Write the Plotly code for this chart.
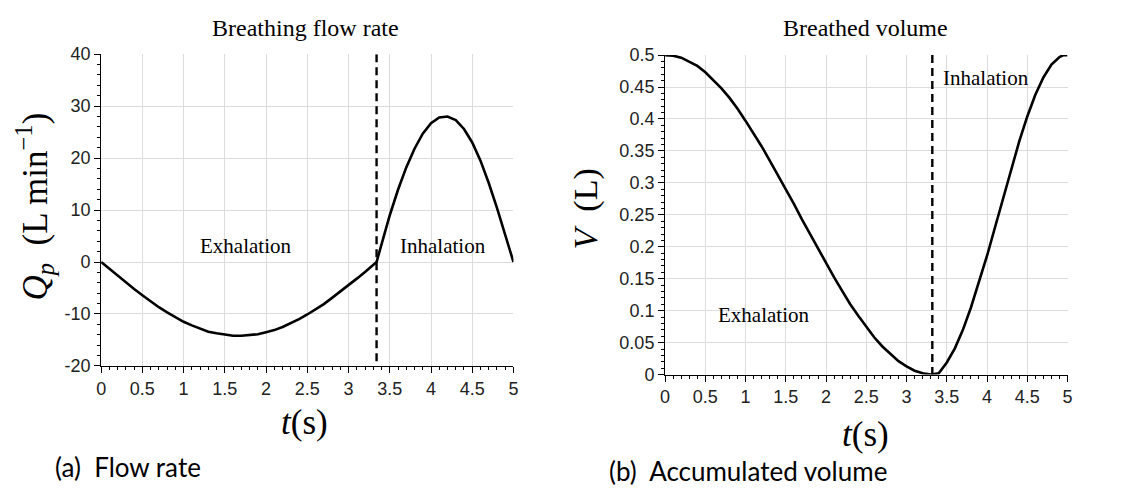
import plotly.graph_objects as go

# ---------------- data ----------------
t_flow = [0.0, 0.1, 0.2, 0.3, 0.4, 0.5, 0.6, 0.7, 0.8, 0.9, 1.0, 1.1, 1.2, 1.3, 1.4, 1.5, 1.6, 1.7,
          1.8, 1.9, 2.0, 2.1, 2.2, 2.3, 2.4, 2.5, 2.6, 2.7, 2.8, 2.9, 3.0, 3.1, 3.2, 3.3, 3.34,
          3.4, 3.5, 3.6, 3.7, 3.8, 3.9, 4.0, 4.1, 4.2, 4.3, 4.4, 4.5, 4.6, 4.7, 4.8, 4.9, 5.0]
q_flow = [0.0, -1.3, -2.7, -4.0, -5.2, -6.4, -7.6, -8.7, -9.7, -10.6, -11.5, -12.2, -12.8, -13.4,
          -13.7, -14.0, -14.2, -14.2, -14.1, -13.9, -13.5, -13.1, -12.5, -11.8, -11.0, -10.1, -9.1,
          -8.1, -6.9, -5.7, -4.5, -3.2, -1.9, -0.5, 0.0,
          3.4, 9.0, 13.9, 18.2, 21.8, 24.7, 26.7, 27.8, 28.0, 27.3, 25.6, 23.0, 19.5, 15.2, 10.4, 5.3, 0.0]

t_vol = [0.0, 0.1, 0.2, 0.3, 0.4, 0.5, 0.6, 0.7, 0.8, 0.9, 1.0, 1.1, 1.2, 1.3, 1.4, 1.5, 1.6, 1.7,
         1.8, 1.9, 2.0, 2.1, 2.2, 2.3, 2.4, 2.5, 2.6, 2.7, 2.8, 2.9, 3.0, 3.1, 3.2, 3.3, 3.4,
         3.5, 3.6, 3.7, 3.8, 3.9, 4.0, 4.1, 4.2, 4.3, 4.4, 4.5, 4.6, 4.7, 4.8, 4.9, 4.95, 5.0]
v_vol = [0.5, 0.499, 0.496, 0.490, 0.483, 0.473, 0.461, 0.448, 0.433, 0.416, 0.397, 0.378, 0.357,
         0.335, 0.313, 0.290, 0.267, 0.243, 0.220, 0.196, 0.174, 0.152, 0.131, 0.110, 0.092, 0.074,
         0.058, 0.044, 0.032, 0.021, 0.013, 0.006, 0.002, 0.0, 0.002,
         0.019, 0.041, 0.070, 0.105, 0.144, 0.186, 0.231, 0.277, 0.322, 0.365, 0.404, 0.438,
         0.465, 0.485, 0.497, 0.500, 0.500]

t_switch_flow = [3.34, 3.34]
q_switch = [40, -19.2]
t_switch_vol = [3.32, 3.32]
v_switch = [0.5, 0.0]

x_ticks = [0, 0.5, 1, 1.5, 2, 2.5, 3, 3.5, 4, 4.5, 5]
x_tick_text = ["0", "0.5", "1", "1.5", "2", "2.5", "3", "3.5", "4", "4.5", "5"]
q_ticks = [-20, -10, 0, 10, 20, 30, 40]
q_tick_text = ["-20", "-10", "0", "10", "20", "30", "40"]
v_ticks = [0, 0.05, 0.1, 0.15, 0.2, 0.25, 0.3, 0.35, 0.4, 0.45, 0.5]
v_tick_text = ["0", "0.05", "0.1", "0.15", "0.2", "0.25", "0.3", "0.35", "0.4", "0.45", "0.5"]

# ---------------- figure ----------------
W, H = 1132, 493
SERIF = "Liberation Serif"
SANS = "Liberation Sans"
CAP = "Lato"

fig = go.Figure()
fig.add_trace(go.Scatter(x=t_flow, y=q_flow, mode="lines",
                         line=dict(color="black", width=2.6), xaxis="x", yaxis="y", hoverinfo="skip"))
fig.add_trace(go.Scatter(x=t_switch_flow, y=q_switch, mode="lines",
                         line=dict(color="black", width=2.4, dash="8px,5px"), xaxis="x", yaxis="y"))
fig.add_trace(go.Scatter(x=t_vol, y=v_vol, mode="lines",
                         line=dict(color="black", width=2.6), xaxis="x2", yaxis="y2", hoverinfo="skip"))
fig.add_trace(go.Scatter(x=t_switch_vol, y=v_switch, mode="lines",
                         line=dict(color="black", width=2.4, dash="8px,5px"), xaxis="x2", yaxis="y2"))


def px(v):
    return v / W


def py(v):
    return 1 - v / H


def axis_style(minor_dtick):
    return dict(showline=True, linecolor="black", linewidth=1.2, ticks="outside", ticklen=6,
                tickcolor="black", tickwidth=1, showgrid=True, gridcolor="#dcdcdc", gridwidth=1,
                zeroline=False, tickfont=dict(family=SANS, size=18, color="#222"),
                minor=dict(ticks="outside", ticklen=3, tickcolor="black", dtick=minor_dtick,
                           showgrid=False))


fig.update_layout(
    width=W, height=H, margin=dict(l=0, r=0, t=0, b=0),
    paper_bgcolor="white", plot_bgcolor="white", showlegend=False,
    xaxis=dict(domain=[px(97), px(513)], range=[0, 5], tickvals=x_ticks, ticktext=x_tick_text,
               anchor="y", **axis_style(0.1)),
    yaxis=dict(domain=[py(371), py(46)], range=[-20, 40], tickvals=q_ticks, ticktext=q_tick_text,
               anchor="x", **axis_style(2)),
    xaxis2=dict(domain=[px(666), px(1072)], range=[0, 5], tickvals=x_ticks, ticktext=x_tick_text,
                anchor="y2", **axis_style(0.1)),
    yaxis2=dict(domain=[py(380), py(47)], range=[0, 0.5], tickvals=v_ticks, ticktext=v_tick_text,
                anchor="x2", **axis_style(0.01)),
)

ann = []


def add_text(text, x, y, size, family, angle=0, xanchor="center", yanchor="middle", color="black"):
    ann.append(dict(text=text, x=px(x), y=py(y), xref="paper", yref="paper", showarrow=False,
                    xanchor=xanchor, yanchor=yanchor, textangle=angle,
                    font=dict(family=family, size=size, color=color)))


# titles
add_text("Breathing flow rate", 303, 19, 24, SERIF)
add_text("Breathed volume", 868, 19, 24, SERIF)
# axis titles
add_text("<i>Q</i><sub><i>p</i></sub>  (L min<sup>−1</sup>)", 30, 205, 35, SERIF, angle=-90)
add_text("<i>V</i>  (L)", 586, 207, 34, SERIF, angle=-90)
add_text("<i>t</i>(s)", 302, 430, 35, SERIF)
add_text("<i>t</i>(s)", 868, 442, 35, SERIF)
# captions
add_text("(a)  Flow rate", 48, 476, 26, CAP, xanchor="left")
add_text("(b)  Accumulated volume", 607, 480, 26, CAP, xanchor="left")

fig.update_layout(annotations=ann)

# in-plot labels (data coordinates)
lab_font = dict(family=SERIF, size=21, color="black")
fig.add_annotation(text="Exhalation", x=1.75, y=3, xref="x", yref="y", showarrow=False, font=lab_font)
fig.add_annotation(text="Inhalation", x=4.15, y=3, xref="x", yref="y", showarrow=False, font=lab_font)
fig.add_annotation(text="Inhalation", x=3.99, y=0.464, xref="x2", yref="y2", showarrow=False, font=lab_font)
fig.add_annotation(text="Exhalation", x=1.22, y=0.094, xref="x2", yref="y2", showarrow=False, font=lab_font)

fig.write_html("out.html")
